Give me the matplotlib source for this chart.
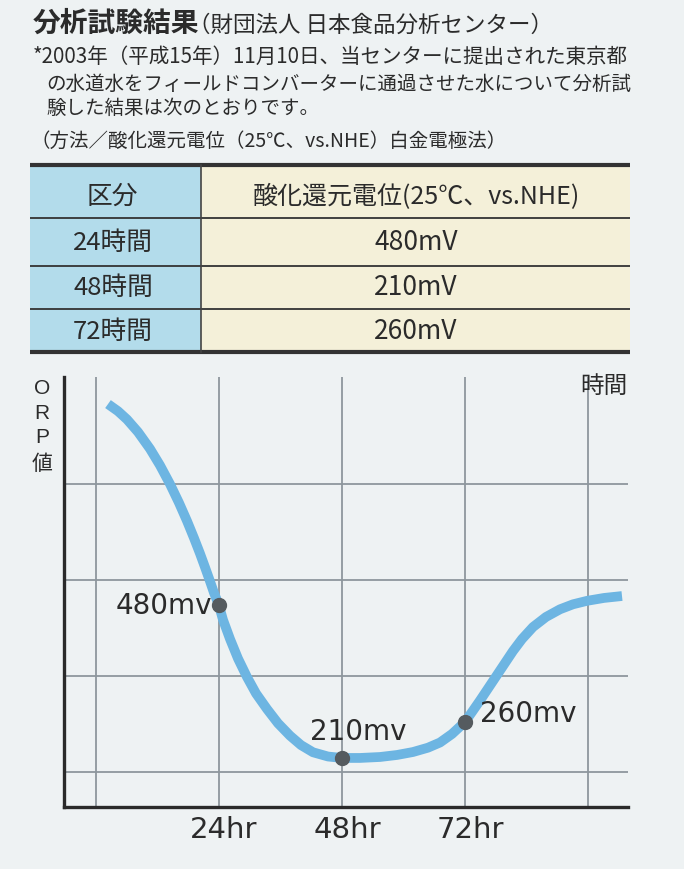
import matplotlib
matplotlib.use('Agg')
import matplotlib.pyplot as plt
from matplotlib.patches import Rectangle
from matplotlib.transforms import ScaledTranslation

plt.rcParams['font.family'] = ['Noto Sans CJK JP', 'DejaVu Sans']

# header text
title = '分析試験結果'
subtitle = '（財団法人 日本食品分析センター）'
note_lines = ['*2003年（平成15年）11月10日、当センターに提出された東京都',
              'の水道水をフィールドコンバーターに通過させた水について分析試',
              '験した結果は次のとおりです。']
method = '（方法／酸化還元電位（25℃、vs.NHE）白金電極法）'

# table
col_headers = ['区分', '酸化還元電位(25℃、vs.NHE)']
row_labels = ['24時間', '48時間', '72時間']
row_values = ['480mV', '210mV', '260mV']

# curve (hours, relative ORP level; gridlines at 1..4)
curve_hours = [2.38, 4.33, 6.09, 8.23, 10.57, 12.52, 14.47, 16.23, 17.79, 19.16,
               20.33, 21.30, 22.28, 23.06, 24.0, 24.81, 26.18, 27.74, 29.49, 31.25,
               33.39, 35.54, 37.88, 40.02, 42.37, 45.29, 48.0, 51.53, 55.43, 58.75,
               61.87, 64.79, 67.14, 69.48, 72.0, 73.38, 74.94, 76.69, 78.25, 79.81,
               81.37, 83.13, 85.27, 87.81, 90.54, 93.08, 95.81, 99.12, 102.63]
curve_level = [4.833, 4.759, 4.673, 4.542, 4.367, 4.195, 4.0, 3.804, 3.615, 3.436,
               3.275, 3.133, 2.986, 2.865, 2.74, 2.585, 2.385, 2.181, 1.989, 1.818,
               1.656, 1.507, 1.378, 1.28, 1.205, 1.161, 1.146, 1.146, 1.156, 1.177,
               1.208, 1.253, 1.307, 1.396, 1.521, 1.625, 1.745, 1.885, 2.01, 2.135,
               2.26, 2.385, 2.51, 2.615, 2.695, 2.747, 2.783, 2.813, 2.833]
point_hours = [24, 48, 72]
point_level = [2.74, 1.146, 1.521]
point_labels = ['480mv', '210mv', '260mv']
tick_hours = [24, 48, 72]
tick_labels = ['24hr', '48hr', '72hr']

bg = '#eef2f3'
ink = '#2b2b2b'
W, H = 684, 870

fig = plt.figure(figsize=(W / 100, H / 100), dpi=100, facecolor=bg)

# chart
left, right, bottom, ctop = 64, 628, 808, 378
ax = fig.add_axes([left / W, (H - bottom) / H, (right - left) / W, (bottom - ctop) / H])
ax.set_facecolor(bg)
ax.set_xlim(-6.2, 103.8)
ax.set_ylim(0.635, 5.115)

for h in [0, 24, 48, 72, 96]:
    ax.axvline(h, color='#8e979d', lw=1.3, zorder=1)
for lv in [1, 2, 3, 4]:
    ax.axhline(lv, color='#8e979d', lw=1.3, zorder=1)

for s in ['top', 'right']:
    ax.spines[s].set_visible(False)
for s in ['left', 'bottom']:
    ax.spines[s].set_linewidth(2.4)
    ax.spines[s].set_color('#2a2a2a')
ax.set_yticks([])
ax.set_xticks(tick_hours)
ax.set_xticklabels(tick_labels, fontsize=21, color=ink, family='DejaVu Sans')
ax.tick_params(axis='x', length=0, pad=6)
shift = ScaledTranslation(5 / 100, 0, fig.dpi_scale_trans)
for t in ax.get_xticklabels():
    t.set_transform(t.get_transform() + shift)

ax.plot(curve_hours, curve_level, color='#6db5e2', lw=7,
        solid_capstyle='butt', solid_joinstyle='round', zorder=3)
ax.plot(point_hours, point_level, 'o', color='#555b5f', markersize=10, zorder=4)

offsets = [(-5, 0, 'right'), (12, 19.5, 'center'), (11, 6.5, 'left')]
for hx, lv, lab, (dx, dy, ha) in zip(point_hours, point_level, point_labels, offsets):
    ax.annotate(lab, (hx, lv), xytext=(dx, dy), textcoords='offset points',
                fontsize=20, color=ink, ha=ha, va='center',
                family='DejaVu Sans', zorder=5)

# overlay in pixel coordinates for the header, the table and axis titles
top = fig.add_axes([0, 0, 1, 1])
top.set_xlim(0, W)
top.set_ylim(H, 0)
top.axis('off')
top.set_zorder(5)

top.text(33, 24, title, fontsize=20, fontweight='bold', color=ink, va='center')
top.text(188, 25, subtitle, fontsize=16.2, color=ink, va='center')
top.text(33, 57, note_lines[0], fontsize=14.8, color=ink, va='center')
top.text(46, 84, note_lines[1], fontsize=14, color=ink, va='center')
top.text(46, 108, note_lines[2], fontsize=14, color=ink, va='center')
top.text(30, 141, method, fontsize=14, color=ink, va='center')

# table geometry
tx0, tx1, tdiv = 30, 630, 201
row_edges = [166, 219, 267, 310, 353]
top.add_patch(Rectangle((tx0, row_edges[0]), tdiv - tx0, row_edges[-1] - row_edges[0],
                        facecolor='#b3dceb', edgecolor='none'))
top.add_patch(Rectangle((tdiv, row_edges[0]), tx1 - tdiv, row_edges[-1] - row_edges[0],
                        facecolor='#f4f0d9', edgecolor='none'))
for i, y in enumerate(row_edges):
    lw = 3 if i in (0, len(row_edges) - 1) else 1.3
    top.plot([tx0, tx1], [y, y], color='#333333', lw=lw, solid_capstyle='butt')
top.plot([tdiv, tdiv], [row_edges[0], row_edges[-1]], color='#444444', lw=1.2)

top.text(112, 197, col_headers[0], fontsize=18.5, color=ink, ha='center', va='center')
top.text(416, 197, col_headers[1], fontsize=18, color=ink, ha='center', va='center')
row_centers = [243, 288, 332]
for yc, lab, val in zip(row_centers, row_labels, row_values):
    top.text(113, yc, lab, fontsize=18.5, color=ink, ha='center', va='center')
    top.text(416, yc, val, fontsize=19, color=ink, ha='center', va='center')

for ch, y in zip(['O', 'R', 'P'], [389, 414, 438]):
    top.text(42, y, ch, fontsize=15, color=ink, ha='center', va='center',
             family=['Liberation Sans', 'DejaVu Sans'])
top.text(42, 464, '値', fontsize=15, color=ink, ha='center', va='center')
top.text(604, 386, '時間', fontsize=17, color=ink, ha='center', va='center')

fig.savefig('out.png', dpi=100, facecolor=bg)
